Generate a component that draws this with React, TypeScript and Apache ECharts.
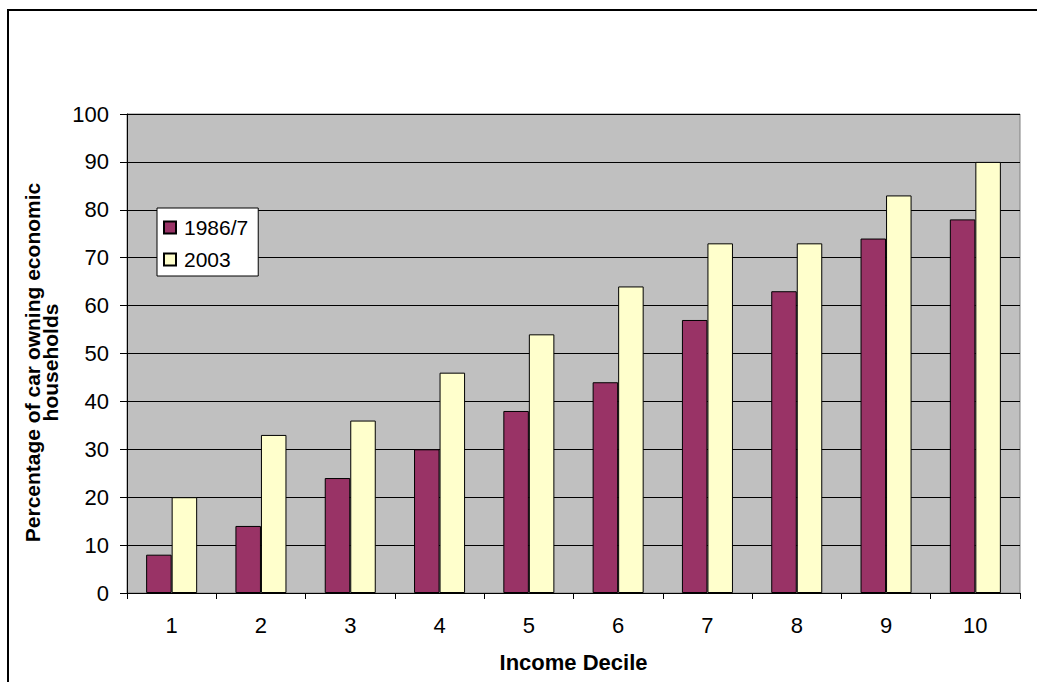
import React, { useEffect, useRef } from "react";
import * as echarts from "echarts";

const categories = ["1", "2", "3", "4", "5", "6", "7", "8", "9", "10"];
const series1986 = [8, 14, 24, 30, 38, 44, 57, 63, 74, 78];
const series2003 = [20, 33, 36, 46, 54, 64, 73, 73, 83, 90];
const seriesNames = ["1986/7", "2003"];
const xTitle = "Income Decile";
const yTitle = "Percentage of car owning economic\nhouseholds";

const FONT = "'Liberation Sans', Arial, sans-serif";

export default function App() {
  const ref = useRef<HTMLDivElement>(null);
  useEffect(() => {
    if (!ref.current) return;
    const chart = echarts.init(ref.current, null, { renderer: "svg" });
    chart.setOption({
      animation: false,
      backgroundColor: "#ffffff",
      textStyle: { fontFamily: FONT },
      graphic: [
        {
          type: "rect",
          shape: { x: 8, y: 10, width: 1100, height: 800 },
          style: { fill: "none", stroke: "#000", lineWidth: 2 },
          silent: true,
          z: -1,
        },
      ],
      grid: {
        left: 127,
        top: 114,
        right: 17,
        bottom: 89,
        show: true,
        backgroundColor: "#C0C0C0",
        borderColor: "#808080",
        borderWidth: 1,
      },
      legend: {
        orient: "vertical",
        left: 157,
        top: 208,
        backgroundColor: "#ffffff",
        borderColor: "#000",
        borderWidth: 1,
        borderRadius: 0,
        padding: [9, 10, 6, 6],
        itemGap: 11,
        itemWidth: 12,
        itemHeight: 12,
        icon: "rect",
        textStyle: { fontSize: 21, color: "#000", fontFamily: FONT, padding: [0, 0, 0, 3] },
        data: seriesNames,
      },
      xAxis: {
        type: "category",
        data: categories,
        name: xTitle,
        nameLocation: "middle",
        nameGap: 58,
        nameTextStyle: { fontSize: 22, fontWeight: "bold", color: "#000", fontFamily: FONT },
        axisLine: { show: true, lineStyle: { color: "#000", width: 1 } },
        axisTick: { show: true, length: 6, lineStyle: { color: "#000" } },
        axisLabel: { fontSize: 22, color: "#000", margin: 21, fontFamily: FONT },
        splitLine: { show: false },
      },
      yAxis: {
        type: "value",
        min: 0,
        max: 100,
        interval: 10,
        name: yTitle,
        nameLocation: "middle",
        nameGap: 62,
        nameTextStyle: {
          fontSize: 21,
          fontWeight: "bold",
          color: "#000",
          fontFamily: FONT,
          lineHeight: 18,
          padding: [0, 18, 0, 0],
        },
        axisLine: { show: true, lineStyle: { color: "#000", width: 1 } },
        axisTick: { show: true, length: 7, lineStyle: { color: "#000" } },
        axisLabel: { fontSize: 22, color: "#000", margin: 18, fontFamily: FONT },
        splitLine: { show: true, lineStyle: { color: "#000", width: 1 } },
      },
      series: [
        {
          name: seriesNames[0],
          type: "bar",
          data: series1986,
          barGap: "0%",
          barCategoryGap: "42.86%",
          itemStyle: { color: "#993366", borderColor: "#000", borderWidth: 1 },
        },
        {
          name: seriesNames[1],
          type: "bar",
          data: series2003,
          barGap: "0%",
          barCategoryGap: "42.86%",
          itemStyle: { color: "#FFFFCC", borderColor: "#000", borderWidth: 1 },
        },
      ],
    });
    return () => chart.dispose();
  }, []);
  return (
    <div
      ref={ref}
      style={{ position: "absolute", left: 0, top: 0, width: 1037, height: 682 }}
    />
  );
}
